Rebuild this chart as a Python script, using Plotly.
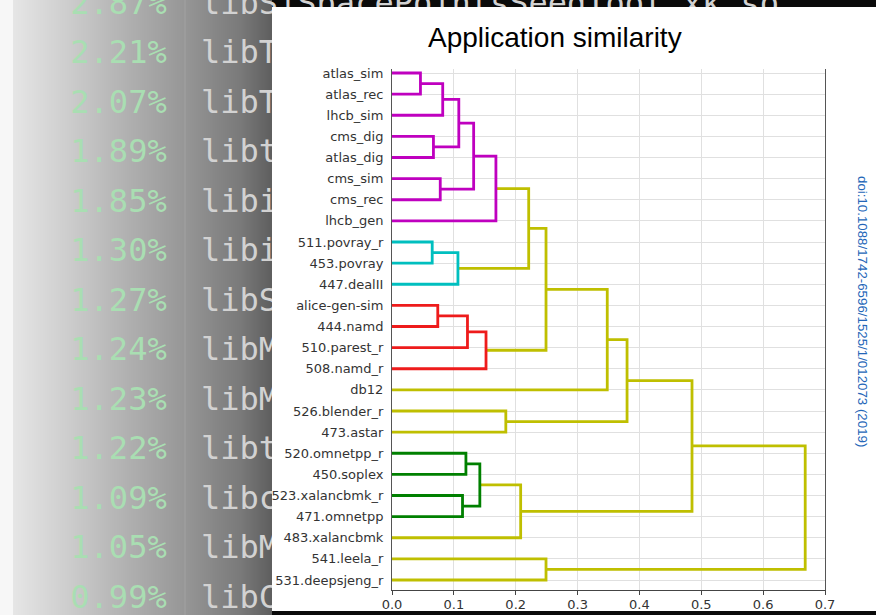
import numpy as np
import plotly.graph_objects as go

# ---------------- data ----------------
leaves = ["atlas_sim", "atlas_rec", "lhcb_sim", "cms_dig", "atlas_dig", "cms_sim",
          "cms_rec", "lhcb_gen", "511.povray_r", "453.povray", "447.dealII",
          "alice-gen-sim", "444.namd", "510.parest_r", "508.namd_r", "db12",
          "526.blender_r", "473.astar", "520.omnetpp_r", "450.soplex",
          "523.xalancbmk_r", "471.omnetpp", "483.xalancbmk", "541.leela_r",
          "531.deepsjeng_r"]

# linkage (scipy-like): new cluster id = len(leaves) + merge index
merge_left = [0, 25, 3, 26, 5, 28, 30, 8, 32, 31, 11, 35, 36, 34, 38, 16, 39, 18, 20, 42, 44, 41, 23, 46]
merge_right = [1, 2, 4, 27, 6, 29, 7, 9, 10, 33, 12, 13, 14, 37, 15, 17, 40, 19, 21, 43, 22, 45, 24, 47]
merge_height = [0.046, 0.082, 0.067, 0.108, 0.078, 0.132, 0.168, 0.065, 0.1066, 0.221,
                0.074, 0.122, 0.152, 0.249, 0.348, 0.184, 0.380, 0.1195, 0.114, 0.142,
                0.208, 0.485, 0.249, 0.668]
merge_color = ["m", "m", "m", "m", "m", "m", "m", "c", "c", "y",
               "r", "r", "r", "y", "y", "y", "y", "g", "g", "g",
               "y", "y", "y", "y"]

x_ticks = [0.0, 0.1, 0.2, 0.3, 0.4, 0.5, 0.6, 0.7]

# background terminal text (only the visible parts; the rest is hidden by the card)
pct_labels = ["2.87%", "2.21%", "2.07%", "1.89%", "1.85%", "1.30%", "1.27%",
              "1.24%", "1.23%", "1.22%", "1.09%", "1.05%", "0.99%"]
lib_labels = ["libSiSpacePointsSeedTool_xk.so", "libT", "libT", "libt", "libi", "libi",
              "libS", "libM", "libM", "libt", "libc", "libM", "libC"]

# ---------------- styles ----------------
W, H = 876, 615
palette = {"m": "#bf00bf", "c": "#00bfbf", "r": "#ee1b1b", "g": "#008000", "y": "#bfbf00"}
CARD = dict(x0=272, x1=876, y0=7, y1=611)
PLOT = dict(x0=392, x1=825, y0=69, y1=590)
LEAF_TOP, LEAF_STEP = 73.0, 21.125

fig = go.Figure()

# ---- background (full-page subplot x/y in pixel units) ----
xs = np.arange(W) + 0.5


def gray(px):
    if px < 13:
        return 247
    if px < 272:
        return float(np.interp(px, [13, 70, 130, 185, 240, 271], [230, 204, 175, 150, 122, 95]))
    return 10


row = [gray(v) for v in xs]
fig.add_trace(go.Heatmap(z=[row, row], x=xs, y=[0, H], zmin=0, zmax=255,
                         colorscale=[[0, "rgb(0,0,0)"], [1, "rgb(255,255,255)"]],
                         showscale=False, hoverinfo="skip", xaxis="x", yaxis="y"))

fig.add_trace(go.Scatter(x=[185, 185], y=[0, H], mode="lines",
                         line=dict(color="rgba(255,255,255,0.13)", width=1),
                         hoverinfo="skip", xaxis="x", yaxis="y"))

row_y = [55.3 + (k - 1) * 49.5 for k in range(len(pct_labels))]
fig.add_trace(go.Scatter(x=[118.5] * len(pct_labels), y=row_y, text=pct_labels, mode="text",
                         textposition="middle center",
                         textfont=dict(family="DejaVu Sans Mono", size=32, color="#a9deb2"),
                         hoverinfo="skip", xaxis="x", yaxis="y"))
fig.add_trace(go.Scatter(x=[201] * len(lib_labels), y=row_y, text=lib_labels, mode="text",
                         textposition="middle right",
                         textfont=dict(family="DejaVu Sans Mono", size=32, color="#d2d2d2"),
                         hoverinfo="skip", xaxis="x", yaxis="y"))

# white card
fig.add_trace(go.Scatter(x=[CARD["x0"], CARD["x1"], CARD["x1"], CARD["x0"], CARD["x0"]],
                         y=[CARD["y0"], CARD["y0"], CARD["y1"], CARD["y1"], CARD["y0"]],
                         mode="lines", fill="toself", fillcolor="white",
                         line=dict(width=0, color="white"),
                         hoverinfo="skip", xaxis="x", yaxis="y"))

# ---- dendrogram (subplot x2/y2) ----
n = len(leaves)
pos = {i: float(i) for i in range(n)}
hgt = {i: 0.0 for i in range(n)}
segs = {k: ([], []) for k in palette}
for k, (a, b, h, c) in enumerate(zip(merge_left, merge_right, merge_height, merge_color)):
    xs_, ys_ = segs[c]
    xs_ += [hgt[a], h, h, hgt[b], None]
    ys_ += [pos[a], pos[a], pos[b], pos[b], None]
    pos[n + k] = (pos[a] + pos[b]) / 2
    hgt[n + k] = h

for c in ["y", "m", "c", "r", "g"]:
    xs_, ys_ = segs[c]
    fig.add_trace(go.Scatter(x=xs_, y=ys_, mode="lines",
                             line=dict(color=palette[c], width=2.8),
                             cliponaxis=False, hoverinfo="skip",
                             xaxis="x2", yaxis="y2"))

y_top = -(LEAF_TOP - PLOT["y0"]) / LEAF_STEP
y_bot = (n - 1) + (PLOT["y1"] - (LEAF_TOP + (n - 1) * LEAF_STEP)) / LEAF_STEP

fig.update_layout(
    width=W, height=H, margin=dict(l=0, r=0, t=0, b=0, pad=0, autoexpand=False),
    paper_bgcolor="white", plot_bgcolor="white", showlegend=False,
    xaxis=dict(domain=[0, 1], range=[0, W], visible=False, fixedrange=True, automargin=False),
    yaxis=dict(domain=[0, 1], range=[H, 0], visible=False, fixedrange=True, automargin=False),
    xaxis2=dict(domain=[PLOT["x0"] / W, PLOT["x1"] / W], anchor="y2", range=[0, 0.7],
                tickvals=x_ticks, tickformat=".1f", ticks="outside", ticklen=4,
                tickcolor="#444", showline=True, linecolor="#444", linewidth=1,
                showgrid=True, gridcolor="#e0e0e0", gridwidth=1, zeroline=False,
                automargin=False, ticklabelstandoff=-2,
                tickfont=dict(family="DejaVu Sans", size=13, color="#333")),
    yaxis2=dict(domain=[1 - PLOT["y1"] / H, 1 - PLOT["y0"] / H], anchor="x2",
                range=[y_bot, y_top], tickvals=list(range(n)), ticktext=leaves,
                ticks="", showline=True, mirror=True, linecolor="#555", linewidth=1,
                showgrid=True, gridcolor="#e0e0e0", gridwidth=1, zeroline=False,
                ticklabelstandoff=5, automargin=False,
                tickfont=dict(family="DejaVu Sans", size=13, color="#333")),
    annotations=[
        dict(text="Application similarity", x=555 / W, y=1 - 37 / H, xref="paper", yref="paper",
             showarrow=False, xanchor="center", yanchor="middle",
             font=dict(family="Liberation Sans", size=28, color="#000")),
        dict(text="doi:10.1088/1742-6596/1525/1/012073 (2019)", x=863 / W, y=1 - 311 / H,
             xref="paper", yref="paper", showarrow=False, textangle=90,
             xanchor="center", yanchor="middle",
             font=dict(family="Liberation Sans", size=13.3, color="#2466b8")),
    ],
)

fig.write_html("out.html")
